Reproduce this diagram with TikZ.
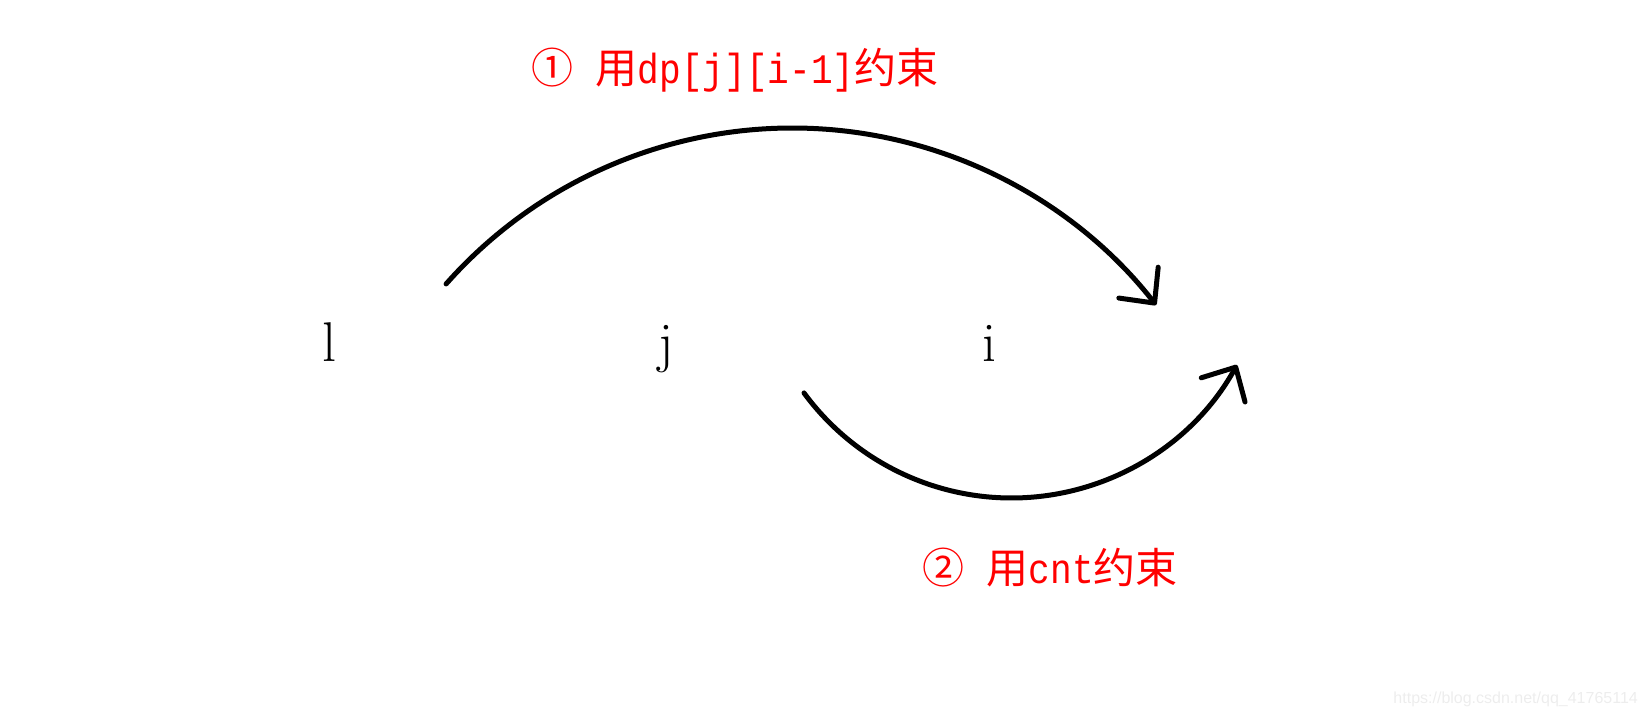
\documentclass[tikz,border=0pt]{standalone}
\usepackage{fontspec}
\newfontfamily\cjk{Noto Sans CJK SC}
\newfontfamily\lmono[FakeStretch=0.86]{Liberation Mono}
\newfontfamily\wmfont{Liberation Sans}
\usetikzlibrary{arrows.meta,calc}
\begin{document}
\begin{tikzpicture}[x=1pt,y=1pt,
  var/.style={font=\fontsize{56}{60}\selectfont, inner sep=0pt, anchor=base},
  arrowline/.style={line width=5pt, line cap=round,
    -{Straight Barb[length=26pt,width=50pt,round]}},
  note/.style={text=red, inner sep=0pt, anchor=base west,
    font=\fontsize{42}{46}\selectfont},
]
\useasboundingbox (0,0) rectangle (1648,715);
% variables
\node[var] (l) at (329,353) {l};
\node[var] (j) at (666,353) {j};
\node[var] (i) at (989,353) {i};
% arc centres and start points
\coordinate (c1) at (792.3,124.7);
\coordinate (c2) at (1011.5,474.5);
\coordinate (s1) at ($(c1)+(138.5:462.3)$);
\coordinate (s2) at ($(c2)+(216.3:257.5)$);
% arrows
\draw[arrowline] (s1) arc[start angle=138.5,end angle=38.1,radius=462.3];
\draw[arrowline] (s2) arc[start angle=216.3,end angle=331.1,radius=257.5];
% notes
\node[note] (n1) at (531.7,631.7) {\cjk ①\hspace{22pt}用\lmono dp[j][i-1]\cjk 约束};
\node[note] (n2) at (922.7,131.7) {\cjk ②\hspace{22pt}用\lmono cnt\cjk 约束};
% watermark
\node[anchor=base east, inner sep=0pt, text=black!7,
  font=\wmfont\fontsize{16}{18}\selectfont] (wm) at (1638,12)
  {https://blog.csdn.net/qq\_41765114};
\end{tikzpicture}
\end{document}
